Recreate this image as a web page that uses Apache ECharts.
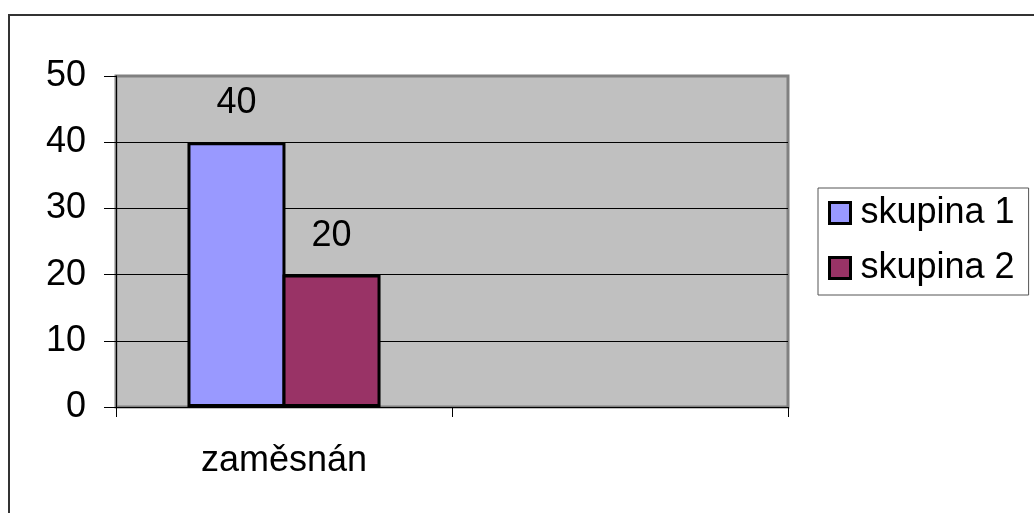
<!DOCTYPE html>
<html>
<head>
<meta charset="utf-8">
<script src="https://cdn.jsdelivr.net/npm/echarts@6/dist/echarts.min.js"></script>
<style>
html,body{margin:0;padding:0;background:#fff;}
#c{width:1034px;height:513px;}
</style>
</head>
<body>
<div id="c"></div>
<script>
const categories = ['zaměsnán', ''];
const seriesNames = ['skupina 1', 'skupina 2'];
const skupina1 = [40, null];
const skupina2 = [20, null];
const yTicks = { min: 0, max: 50, interval: 10 };

const FONT = 'Liberation Sans, Arial, sans-serif';
const FS = 36;
const chart = echarts.init(document.getElementById('c'));
chart.setOption({
  animation: false,
  backgroundColor: '#ffffff',
  textStyle: { fontFamily: FONT, color: '#000' },
  graphic: [{
    type: 'rect', silent: true, z: -1,
    shape: { x: 9, y: 15, width: 1100, height: 600 },
    style: { fill: 'none', stroke: '#333333', lineWidth: 2 }
  }],
  grid: {
    left: 116, top: 76, right: 246, bottom: 106,
    show: true, backgroundColor: '#C0C0C0', borderColor: '#808080', borderWidth: 3
  },
  legend: {
    orient: 'vertical', left: 818, top: 188,
    padding: [7, 14, 9, 10], itemGap: 19,
    itemWidth: 21, itemHeight: 21, icon: 'rect',
    backgroundColor: '#ffffff', borderColor: '#555555', borderWidth: 1,
    itemStyle: { borderColor: '#000', borderWidth: 3 },
    textStyle: { fontSize: FS, fontFamily: FONT, color: '#000', padding: [0, 0, 0, 5] },
    data: seriesNames
  },
  xAxis: {
    type: 'category', data: categories, boundaryGap: true,
    axisLine: { lineStyle: { color: '#000', width: 1 } },
    axisTick: { show: true, length: 10, lineStyle: { color: '#000' } },
    axisLabel: { fontSize: FS, fontFamily: FONT, color: '#000', margin: 36 },
    splitLine: { show: false }
  },
  yAxis: {
    type: 'value', min: yTicks.min, max: yTicks.max, interval: yTicks.interval,
    axisLine: { show: true, lineStyle: { color: '#000', width: 1 } },
    axisTick: { show: true, length: 12, lineStyle: { color: '#000' } },
    axisLabel: { fontSize: FS, fontFamily: FONT, color: '#000', margin: 30 },
    splitLine: { show: true, showMaxLine: false, lineStyle: { color: '#000', width: 1 } }
  },
  series: [
    {
      name: seriesNames[0], type: 'bar', data: skupina1,
      barWidth: 98, barGap: '-3%',
      itemStyle: { color: '#9999FF', borderColor: '#000', borderWidth: 3 },
      label: { show: true, position: 'top', distance: 21, fontSize: FS, fontFamily: FONT, color: '#000' }
    },
    {
      name: seriesNames[1], type: 'bar', data: skupina2,
      barWidth: 98, barGap: '-3%',
      itemStyle: { color: '#993366', borderColor: '#000', borderWidth: 3 },
      label: { show: true, position: 'top', distance: 21, fontSize: FS, fontFamily: FONT, color: '#000' }
    }
  ]
});
</script>
</body>
</html>
